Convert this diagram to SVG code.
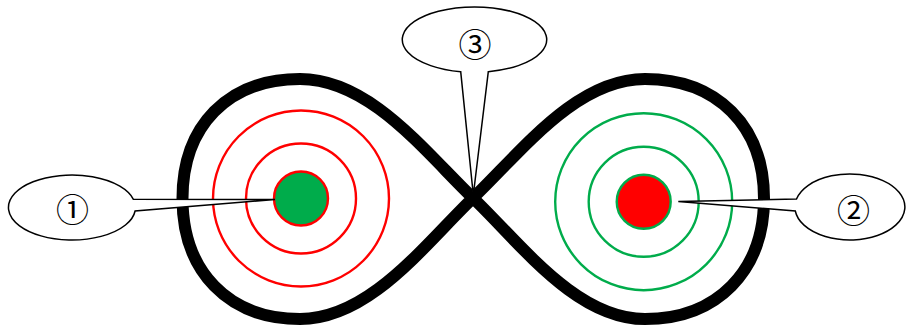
<svg xmlns="http://www.w3.org/2000/svg" width="907" height="329" viewBox="0 0 907 329">
  <style>
    .loop { fill: none; stroke: #000; stroke-width: 12; stroke-linejoin: round; }
    .ring-red { fill: none; stroke: #ff0000; stroke-width: 2.4; }
    .ring-green { fill: none; stroke: #00ac4b; stroke-width: 2.4; }
    .callout { fill: #fff; stroke: #000; stroke-width: 1.5; stroke-linejoin: miter; }
    .label { font-family: "Noto Sans CJK JP", "DejaVu Serif", serif; font-size: 33px; text-anchor: middle; fill: #000; }
  </style>
  <rect x="0" y="0" width="907" height="329" fill="#fff"/>
  <g id="connectors">
    <path id="infinity-loop" class="loop" d="M 473,198 C 425,152 370,79 300,79 C 228,79 182.5,126 182.5,198.5 C 182.5,271 228,319 300,319 C 370,319 425,244 473,198 C 521,152 576,79 645,79 C 717,79 764,126 764,198.5 C 764,271 717,319 645,319 C 576,319 521,244 473,198 Z"/>
  </g>
  <g id="left-target">
    <circle class="ring-red" cx="301" cy="198.5" r="88"/>
    <circle class="ring-red" cx="301" cy="198.5" r="55"/>
    <circle cx="301" cy="198.5" r="27" fill="#00ac4b" stroke="#ff0000" stroke-width="2.4"/>
  </g>
  <g id="right-target">
    <circle class="ring-green" cx="643.7" cy="201.7" r="88.5"/>
    <circle class="ring-green" cx="643.7" cy="201.7" r="55"/>
    <circle cx="643.7" cy="201.7" r="27" fill="#ff0000" stroke="#00ac4b" stroke-width="2.4"/>
  </g>
  <g id="callout-1">
    <path class="callout" d="M 133.4,199.3 L 275,199.5 L 135.1,211 A 63.5 32.5 0 1 1 133.4,199.3 Z"/>
    <text class="label" x="72.5" y="221.5">①</text>
  </g>
  <g id="callout-2">
    <path class="callout" d="M 796.5,199 L 678.3,201.5 L 795.3,211 A 55 33 0 1 0 796.5,199 Z"/>
    <text class="label" x="853.5" y="222.5">②</text>
  </g>
  <g id="callout-3">
    <path class="callout" d="M 460.7,71.7 L 473.3,195 L 488.3,71.7 A 72.2 32.7 0 1 0 460.7,71.7 Z"/>
    <text class="label" x="475" y="56.5">③</text>
  </g>
</svg>
